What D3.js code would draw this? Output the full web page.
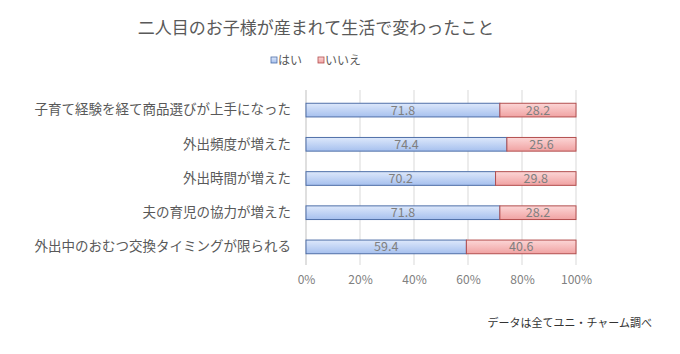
<!DOCTYPE html>
<html>
<head>
<meta charset="utf-8">
<script src="https://cdn.jsdelivr.net/npm/d3@7"></script>
<style>
  body { margin: 0; background: #fff; }
  text { font-family: "Noto Sans CJK JP", sans-serif; }
</style>
</head>
<body>
<div id="chart"></div>
<script>
var categories = ["子育て経験を経て商品選びが上手になった", "外出頻度が増えた", "外出時間が増えた", "夫の育児の協力が増えた", "外出中のおむつ交換タイミングが限られる"];
var hai = [71.8, 74.4, 70.2, 71.8, 59.4];
var iie = [28.2, 25.6, 29.8, 28.2, 40.6];
var seriesNames = ["はい", "いいえ"];
var ticks = [0, 20, 40, 60, 80, 100];

var svg = d3.select("#chart")
    .append("svg")
    .attr("width", 680)
    .attr("height", 354);

var defs = svg.append("defs");

function grad(id, top, bottom) {
    var g = defs.append("linearGradient")
        .attr("id", id)
        .attr("x1", 0).attr("y1", 0).attr("x2", 0).attr("y2", 1);
    g.append("stop").attr("offset", "0%").attr("stop-color", top);
    g.append("stop").attr("offset", "100%").attr("stop-color", bottom);
}
grad("gBlue", "#dde8fb", "#a6c0ee");
grad("gRed", "#fcd6d6", "#f0a2a2");

var colors = [{fill: "url(#gBlue)", stroke: "#4f6fa8"}, {fill: "url(#gRed)", stroke: "#b24e4e"}];

var xScale = d3.scaleLinear().domain([0, 100]).range([306, 576]);
var yScale = d3.scaleBand().domain(categories).range([93, 264]).paddingInner(0.6).paddingOuter(0.3);

// title
svg.append("text")
    .attr("x", 316)
    .attr("y", 34)
    .attr("text-anchor", "middle")
    .attr("font-size", 17)
    .attr("fill", "#595959")
    .text("二人目のお子様が産まれて生活で変わったこと");

// legend
var legendX = [271, 318];
seriesNames.forEach(function(name, i) {
    svg.append("rect")
        .attr("x", legendX[i])
        .attr("y", 57)
        .attr("width", 6)
        .attr("height", 6)
        .attr("fill", colors[i].fill)
        .attr("stroke", colors[i].stroke)
        .attr("stroke-width", 0.8);
    svg.append("text")
        .attr("x", legendX[i] + 7)
        .attr("y", 64.5)
        .attr("font-size", 12)
        .attr("fill", "#595959")
        .text(name);
});

// gridlines
svg.selectAll(".grid")
    .data(ticks)
    .enter().append("line")
    .attr("x1", function(d) { return xScale(d); })
    .attr("x2", function(d) { return xScale(d); })
    .attr("y1", 90)
    .attr("y2", 265)
    .attr("stroke", function(d) { return d === 0 ? "#bfbfbf" : "#d9d9d9"; })
    .attr("stroke-width", 1);

// x axis labels
var xAxis = d3.axisBottom(xScale)
    .tickValues(ticks)
    .tickSize(0)
    .tickFormat(function(d) { return d + "%"; });
var xg = svg.append("g")
    .attr("transform", "translate(0,272)")
    .call(xAxis);
xg.select(".domain").remove();
xg.selectAll("text")
    .attr("font-size", 12)
    .attr("fill", "#808080")
    .style("font-family", "\"Noto Sans CJK JP\", sans-serif");

// category labels
var yAxis = d3.axisLeft(yScale).tickSize(0).tickPadding(0);
var yg = svg.append("g")
    .attr("transform", "translate(291,0)")
    .call(yAxis);
yg.select(".domain").remove();
yg.selectAll("text")
    .attr("font-size", 13.5)
    .attr("fill", "#595959")
    .style("font-family", "\"Noto Sans CJK JP\", sans-serif");

// bars
var rows = categories.map(function(c, i) { return {cat: c, vals: [hai[i], iie[i]]}; });

rows.forEach(function(r) {
    var start = 0;
    r.vals.forEach(function(v, j) {
        var x0 = xScale(start), x1 = xScale(start + v);
        svg.append("rect")
            .attr("x", x0)
            .attr("y", yScale(r.cat))
            .attr("width", x1 - x0)
            .attr("height", yScale.bandwidth())
            .attr("fill", colors[j].fill)
            .attr("stroke", colors[j].stroke)
            .attr("stroke-width", 1);
        svg.append("text")
            .attr("x", (x0 + x1) / 2)
            .attr("y", yScale(r.cat) + yScale.bandwidth() / 2 + 4.5)
            .attr("text-anchor", "middle")
            .attr("font-size", 12.5)
            .attr("fill", "#7f7f7f")
            .text(v.toFixed(1));
        start += v;
    });
});

// footnote
svg.append("text")
    .attr("x", 652)
    .attr("y", 327)
    .attr("text-anchor", "end")
    .attr("font-size", 11)
    .attr("fill", "#333")
    .text("データは全てユニ・チャーム調べ");
</script>
</body>
</html>
